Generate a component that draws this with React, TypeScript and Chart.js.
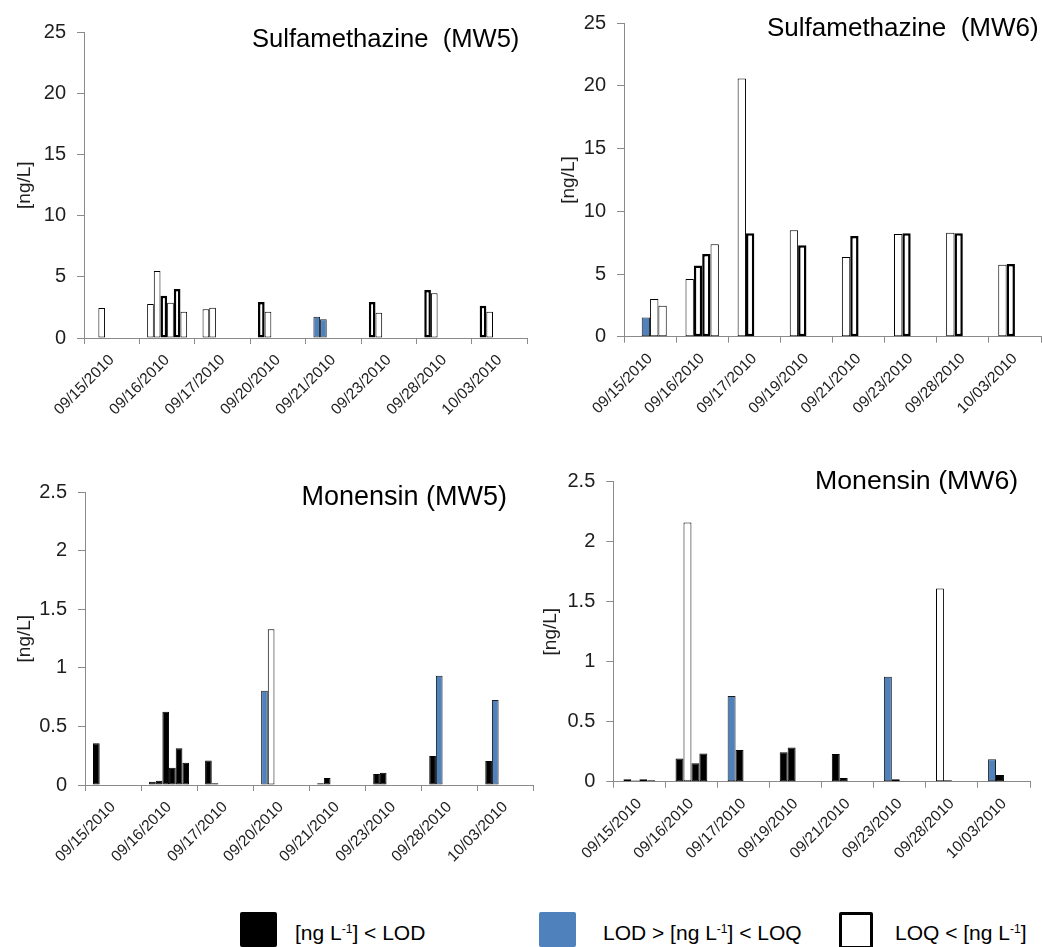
import React, { useEffect, useRef } from 'react';
import { Chart, registerables } from 'chart.js';

Chart.register(...registerables);

// ---------- data ----------
const datesMW5 = ['09/15/2010', '09/16/2010', '09/17/2010', '09/20/2010', '09/21/2010', '09/23/2010', '09/28/2010', '10/03/2010'];
const datesMW6 = ['09/15/2010', '09/16/2010', '09/17/2010', '09/19/2010', '09/21/2010', '09/23/2010', '09/28/2010', '10/03/2010'];

const yTicksSulfa = [0, 5, 10, 15, 20, 25];
const yTicksMonensin = [0, 0.5, 1, 1.5, 2, 2.5];

// rows = replicate sample slot, columns = sampling date
// class: D = below LOD, B = between LOD and LOQ, q / Q = above LOQ (Q drawn with heavy outline)
const sulfaMW5Values = [
  [null, 2.78, 2.35, 2.94, 1.74, 2.94, 3.92, 2.64],
  [2.45, 5.48, 2.48, 2.15, 1.53, 2.07, 3.65, 2.15],
  [null, 3.46, null, null, null, null, null, null],
  [null, 2.89, null, null, null, null, null, null],
  [null, 4.0, null, null, null, null, null, null],
  [null, 2.15, null, null, null, null, null, null],
];
const sulfaMW5Class = [
  [null, 'q', 'q', 'Q', 'B', 'Q', 'Q', 'Q'],
  ['q', 'q', 'q', 'q', 'B', 'q', 'q', 'q'],
  [null, 'Q', null, null, null, null, null, null],
  [null, 'q', null, null, null, null, null, null],
  [null, 'Q', null, null, null, null, null, null],
  [null, 'q', null, null, null, null, null, null],
];

const sulfaMW6Values = [
  [null, 4.6, 20.6, 8.5, 6.35, 8.2, 8.3, 5.73],
  [1.54, 5.68, 8.26, 7.3, 8.04, 8.26, 8.25, 5.79],
  [3.0, 6.6, null, null, null, null, null, null],
  [2.47, 7.38, null, null, null, null, null, null],
];
const sulfaMW6Class = [
  [null, 'q', 'q', 'q', 'q', 'q', 'q', 'q'],
  ['B', 'Q', 'Q', 'Q', 'Q', 'Q', 'Q', 'Q'],
  ['q', 'Q', null, null, null, null, null, null],
  ['q', 'q', null, null, null, null, null, null],
];

const monMW5Values = [
  [0.356, 0.028, 0.21, 0.805, 0.014, 0.094, 0.248, 0.205],
  [null, 0.037, 0.014, 1.33, 0.06, 0.105, 0.934, 0.726],
  [null, 0.626, null, null, null, null, null, null],
  [null, 0.148, null, null, null, null, null, null],
  [null, 0.313, null, null, null, null, null, null],
  [null, 0.19, null, null, null, null, null, null],
];
const monMW5Class = [
  ['D', 'D', 'D', 'B', 'D', 'D', 'D', 'D'],
  [null, 'D', 'D', 'q', 'D', 'D', 'B', 'B'],
  [null, 'D', null, null, null, null, null, null],
  [null, 'D', null, null, null, null, null, null],
  [null, 'D', null, null, null, null, null, null],
  [null, 'D', null, null, null, null, null, null],
];

const monMW6Values = [
  [0.02, 0.194, 0.714, 0.245, 0.23, 0.875, 1.61, 0.187],
  [0.011, 2.16, 0.264, 0.286, 0.03, 0.02, 0.012, 0.056],
  [0.02, 0.153, null, null, null, null, null, null],
  [0.012, 0.236, null, null, null, null, null, null],
];
const monMW6Class = [
  ['D', 'D', 'B', 'D', 'D', 'B', 'q', 'B'],
  ['D', 'q', 'D', 'D', 'D', 'D', 'D', 'D'],
  ['D', 'D', null, null, null, null, null, null],
  ['D', 'D', null, null, null, null, null, null],
];

// ---------- styles ----------
const FONT = '"Liberation Sans", Arial, Helvetica, sans-serif';
const AXIS = '#8a8a8a';
const TXT = '#1e1e1e';
const BLUE = '#4F81BD';

const STYLE: Record<string, { bg: string; border: string; width: number }> = {
  D: { bg: '#000000', border: '#000000', width: 1 },
  B: { bg: BLUE, border: '#1c1c1c', width: 1 },
  q: { bg: '#ffffff', border: '#000000', width: 1 },
  Q: { bg: '#ffffff', border: '#000000', width: 2.5 },
};

type Panel = {
  title: string;
  titleSize: number;
  titleX: number;
  titleY: number;
  labels: string[];
  values: (number | null)[][];
  classes: (string | null)[][];
  yTicks: number[];
  canvas: { l: number; t: number; w: number; h: number };
  area: { l: number; t: number; r: number; b: number };
  yTitleX: number;
  catPct: number;
};

const panels: Panel[] = [
  {
    title: 'Sulfamethazine  (MW5)', titleSize: 25.6, titleX: 252, titleY: 46.5,
    labels: datesMW5, values: sulfaMW5Values, classes: sulfaMW5Class, yTicks: yTicksSulfa,
    canvas: { l: 0, t: 0, w: 535, h: 440 }, area: { l: 84, t: 32.3, r: 527.4, b: 338 },
    yTitleX: 25, catPct: 0.722,
  },
  {
    title: 'Sulfamethazine  (MW6)', titleSize: 26, titleX: 767, titleY: 35.5,
    labels: datesMW6, values: sulfaMW6Values, classes: sulfaMW6Class, yTicks: yTicksSulfa,
    canvas: { l: 535, t: 0, w: 507, h: 440 }, area: { l: 624, t: 23.3, r: 1041, b: 336.7 },
    yTitleX: 569, catPct: 0.64,
  },
  {
    title: 'Monensin (MW5)', titleSize: 27, titleX: 301.5, titleY: 505,
    labels: datesMW5, values: monMW5Values, classes: monMW5Class, yTicks: yTicksMonensin,
    canvas: { l: 0, t: 440, w: 535, h: 430 }, area: { l: 85, t: 492.3, r: 533.3, b: 785 },
    yTitleX: 25, catPct: 0.714,
  },
  {
    title: 'Monensin (MW6)', titleSize: 26.7, titleX: 815, titleY: 489,
    labels: datesMW6, values: monMW6Values, classes: monMW6Class, yTicks: yTicksMonensin,
    canvas: { l: 535, t: 440, w: 507, h: 430 }, area: { l: 613.3, t: 481.7, r: 1030, b: 781.7 },
    yTitleX: 551, catPct: 0.61,
  },
];

function makeChart(canvas: HTMLCanvasElement, p: Panel) {
  const cl = p.canvas.l;
  const ct = p.canvas.t;
  const yW = p.area.l - cl;
  const xH = ct + p.canvas.h - p.area.b;
  const padTop = p.area.t - ct;
  const padRight = cl + p.canvas.w - p.area.r;
  const yTitleSize = 19;
  const yTitlePad = p.yTitleX - cl - (yTitleSize * 1.2) / 2;

  const datasets = p.values.map((row, i) => ({
    label: `Sample ${i + 1}`,
    data: row,
    backgroundColor: p.classes[i].map((c) => (c ? STYLE[c].bg : 'transparent')),
    borderColor: p.classes[i].map((c) => (c ? STYLE[c].border : 'transparent')),
    borderWidth: p.classes[i].map((c) => (c ? STYLE[c].width : 0)),
    borderSkipped: false as const,
    categoryPercentage: p.catPct,
    barPercentage: 1,
  }));

  const titlePlugin = {
    id: 'panelTitle',
    afterDraw(chart: Chart) {
      const ctx = chart.ctx;
      ctx.save();
      ctx.font = `${p.titleSize}px ${FONT}`;
      ctx.fillStyle = '#000';
      ctx.textAlign = 'left';
      ctx.textBaseline = 'alphabetic';
      ctx.fillText(p.title, p.titleX - cl, p.titleY - ct);
      ctx.restore();
    },
  };

  return new Chart(canvas, {
    type: 'bar',
    data: { labels: p.labels, datasets: datasets as any },
    options: {
      responsive: false,
      maintainAspectRatio: false,
      animation: false,
      events: [],
      layout: { padding: { top: padTop, right: padRight, bottom: 0, left: 0 } },
      plugins: {
        legend: { display: false },
        tooltip: { enabled: false },
        title: { display: false },
      },
      scales: {
        x: {
          grid: { offset: true, drawOnChartArea: false, drawTicks: true, tickLength: 6, color: AXIS },
          border: { display: true, color: AXIS, width: 1 },
          ticks: {
            autoSkip: false,
            minRotation: 45,
            maxRotation: 45,
            padding: 7,
            color: TXT,
            font: { family: FONT, size: 15.5 },
          },
          afterFit: (s: any) => {
            s.height = xH;
          },
        },
        y: {
          min: p.yTicks[0],
          max: p.yTicks[p.yTicks.length - 1],
          grid: { drawOnChartArea: false, drawTicks: true, tickLength: 7, color: AXIS },
          border: { display: true, color: AXIS, width: 1 },
          ticks: {
            padding: 11,
            color: TXT,
            font: { family: FONT, size: 20 },
            callback: (v: any) => String(Number(v)),
          },
          afterBuildTicks: (s: any) => {
            s.ticks = p.yTicks.map((v) => ({ value: v }));
          },
          afterFit: (s: any) => {
            s.width = yW;
          },
          title: {
            display: true,
            text: '[ng/L]',
            color: TXT,
            font: { family: FONT, size: yTitleSize },
            padding: { top: yTitlePad, bottom: 0 },
          },
        },
      },
    },
    plugins: [titlePlugin],
  });
}

const sup = (
  <span style={{ position: 'relative', top: '-0.55em', fontSize: '12px' }}>-1</span>
);

const legendText: React.CSSProperties = {
  position: 'absolute',
  top: 922,
  fontFamily: FONT,
  fontSize: '21px',
  lineHeight: '21px',
  whiteSpace: 'nowrap',
  color: '#000',
};

export default function App() {
  const refs = useRef<(HTMLCanvasElement | null)[]>([]);

  useEffect(() => {
    const charts = panels.map((p, i) => makeChart(refs.current[i] as HTMLCanvasElement, p));
    return () => charts.forEach((c) => c.destroy());
  }, []);

  return (
    <div
      style={{
        position: 'absolute',
        left: 0,
        top: 0,
        width: 1042,
        height: 947,
        overflow: 'hidden',
        background: '#fff',
      }}
    >
      {panels.map((p, i) => (
        <canvas
          key={i}
          ref={(el) => {
            refs.current[i] = el;
          }}
          width={p.canvas.w}
          height={p.canvas.h}
          style={{
            position: 'absolute',
            left: p.canvas.l,
            top: p.canvas.t,
            width: p.canvas.w,
            height: p.canvas.h,
          }}
        />
      ))}

      <div style={{ position: 'absolute', left: 240, top: 912, width: 37, height: 35, background: '#000', borderRadius: 2 }} />
      <div style={{ ...legendText, left: 295 }}>
        [ng L{sup}] &lt; LOD
      </div>

      <div style={{ position: 'absolute', left: 539, top: 912, width: 37, height: 35, background: BLUE, borderRadius: 2 }} />
      <div style={{ ...legendText, left: 603 }}>
        LOD &gt; [ng L{sup}] &lt; LOQ
      </div>

      <div
        style={{
          position: 'absolute',
          left: 839,
          top: 912,
          width: 34,
          height: 37,
          boxSizing: 'border-box',
          border: '3px solid #000',
          background: '#fff',
          borderRadius: 2,
        }}
      />
      <div style={{ ...legendText, left: 895 }}>
        LOQ &lt; [ng L{sup}]
      </div>
    </div>
  );
}
